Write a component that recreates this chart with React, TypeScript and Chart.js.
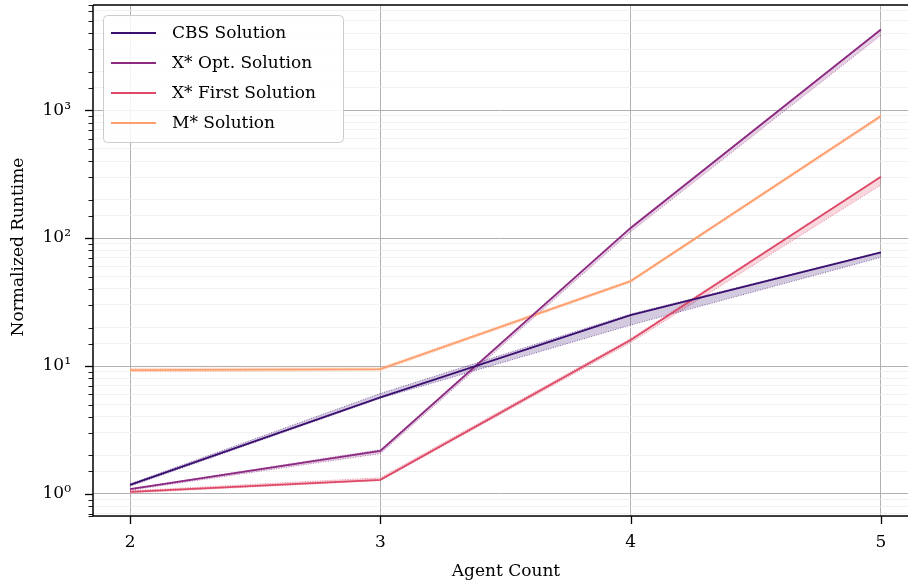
import { useEffect, useRef } from 'react';
import { Chart, registerables } from 'chart.js';
Chart.register(...registerables);

const FONT = "'DejaVu Serif', 'Liberation Serif', serif";

const agentCounts = [2, 3, 4, 5];
const xTicks = [2, 3, 4, 5];
const yTickLabels = ['10⁰', '10¹', '10²', '10³'];

const seriesNames = ['CBS Solution', 'X* Opt. Solution', 'X* First Solution', 'M* Solution'];
const seriesColors = ['#3b0f70', '#8c2981', '#de4968', '#fe9f6d'];

const cbsMean = [1.18, 5.69, 25.0, 77.3];
const cbsLow = [1.15, 5.6, 20.9, 70.7];
const cbsHigh = [1.2, 6.1, 25.5, 78.0];

const optMean = [1.09, 2.17, 120, 4270];
const optLow = [1.07, 2.07, 112, 3850];
const optHigh = [1.1, 2.22, 122, 4300];

const firstMean = [1.04, 1.29, 16.0, 301];
const firstLow = [1.02, 1.27, 15.3, 260];
const firstHigh = [1.06, 1.34, 16.4, 305];

const mMean = [9.3, 9.47, 46.1, 898];
const mLow = [9.0, 9.2, 45.0, 870];
const mHigh = [9.6, 9.7, 47.0, 920];

const means = [cbsMean, optMean, firstMean, mMean];
const lows = [cbsLow, optLow, firstLow, mLow];
const highs = [cbsHigh, optHigh, firstHigh, mHigh];

function hexA(hex: string, a: number) {
  const n = parseInt(hex.slice(1), 16);
  return `rgba(${(n >> 16) & 255},${(n >> 8) & 255},${n & 255},${a})`;
}
const pts = (arr: number[]) => arr.map((y, i) => ({ x: agentCounts[i], y }));
const isPow10 = (v: number) => Math.abs(Math.log10(v) - Math.round(Math.log10(v))) < 1e-6;

export default function App() {
  const ref = useRef<HTMLCanvasElement>(null);
  useEffect(() => {
    document.body.style.margin = '0';
    const datasets: any[] = [];
    seriesNames.forEach((name, s) => {
      const c = seriesColors[s];
      const lowIdx = datasets.length;
      datasets.push({
        label: name + ' low',
        data: pts(lows[s]),
        borderColor: hexA(c, 0.6),
        borderWidth: 1,
        borderDash: [1, 1.5],
        pointRadius: 0,
        fill: false,
        order: 2,
      });
      datasets.push({
        label: name + ' high',
        data: pts(highs[s]),
        borderColor: hexA(c, 0.6),
        borderWidth: 1,
        borderDash: [1, 1.5],
        pointRadius: 0,
        backgroundColor: hexA(c, 0.22),
        fill: lowIdx,
        order: 2,
      });
    });
    seriesNames.forEach((name, s) => {
      datasets.push({
        label: name,
        data: pts(means[s]),
        borderColor: seriesColors[s],
        borderWidth: 1.8,
        pointRadius: 0,
        fill: false,
        order: 0,
      });
    });

    const decor = {
      id: 'decor',
      afterDraw(chart: any) {
        const ctx = chart.ctx;
        const { left, right, top, bottom } = chart.chartArea;
        const ys = chart.scales.y;
        const xs = chart.scales.x;
        ctx.save();
        ctx.strokeStyle = '#000';
        ys.ticks.forEach((t: any) => {
          const p = Math.round(ys.getPixelForValue(t.value)) + 0.5;
          if (p < top - 1 || p > bottom + 1) return;
          const major = isPow10(t.value);
          ctx.lineWidth = major ? 1.3 : 0.9;
          ctx.beginPath();
          ctx.moveTo(left, p);
          ctx.lineTo(left - (major ? 8 : 4.5), p);
          ctx.stroke();
        });
        xs.ticks.forEach((t: any) => {
          const p = Math.round(xs.getPixelForValue(t.value)) + 0.5;
          ctx.lineWidth = 1.3;
          ctx.beginPath();
          ctx.moveTo(p, bottom);
          ctx.lineTo(p, bottom + 8);
          ctx.stroke();
        });
        ctx.lineWidth = 1.5;
        ctx.beginPath();
        ctx.moveTo(left, top);
        ctx.lineTo(left, bottom);
        ctx.lineTo(right, bottom);
        ctx.moveTo(left, top);
        ctx.lineTo(right, top);
        ctx.stroke();
        ctx.fillStyle = '#000';
        ctx.font = `17px ${FONT}`;
        ctx.textAlign = 'center';
        ctx.textBaseline = 'middle';
        ctx.fillText('Agent Count', 506, 572);
        ctx.save();
        ctx.translate(19, 247);
        ctx.rotate(-Math.PI / 2);
        ctx.fillText('Normalized Runtime', 0, 0);
        ctx.restore();
        ctx.beginPath();
        ctx.roundRect(103.5, 15.5, 240, 127, 4);
        ctx.fillStyle = 'rgba(255,255,255,0.85)';
        ctx.fill();
        ctx.strokeStyle = '#cccccc';
        ctx.lineWidth = 1;
        ctx.stroke();
        ctx.textAlign = 'left';
        seriesNames.forEach((name, i) => {
          const y = 33 + 30 * i;
          ctx.strokeStyle = seriesColors[i];
          ctx.lineWidth = 2;
          ctx.beginPath();
          ctx.moveTo(111, y);
          ctx.lineTo(156, y);
          ctx.stroke();
          ctx.fillStyle = '#000';
          ctx.fillText(name, 172, y + 1);
        });
        ctx.restore();
      },
    };

    const chart = new Chart(ref.current!, {
      type: 'line',
      data: { datasets },
      options: {
        responsive: false,
        animation: false,
        layout: { padding: { top: 5, right: 1, left: 0, bottom: 0 } },
        plugins: { legend: { display: false }, tooltip: { enabled: false } },
        scales: {
          x: {
            type: 'linear',
            min: 1.852,
            max: 5.108,
            afterBuildTicks: (s: any) => {
              s.ticks = xTicks.map((v) => ({ value: v }));
            },
            afterFit: (s: any) => {
              s.height = 69;
              s.paddingLeft = 0;
              s.paddingRight = 0;
            },
            grid: { color: '#b0b0b0', lineWidth: 1, drawTicks: false },
            border: { display: false },
            ticks: {
              color: '#000',
              padding: 16,
              font: { family: FONT, size: 17 },
              callback: (v: any) => String(v),
            },
          },
          y: {
            type: 'logarithmic',
            min: 0.673,
            max: 6630,
            afterFit: (s: any) => {
              s.width = 93;
              s.paddingTop = 0;
              s.paddingBottom = 0;
            },
            grid: {
              drawTicks: false,
              color: (c: any) => (c.tick && isPow10(c.tick.value) ? '#b0b0b0' : '#ededed'),
              lineWidth: (c: any) => (c.tick && isPow10(c.tick.value) ? 1 : 0.8),
            },
            border: { display: false },
            ticks: {
              autoSkip: false,
              color: '#000',
              padding: 22,
              font: { family: FONT, size: 17 },
              callback: (v: any) => {
                const n = Number(v);
                if (!isPow10(n)) return '';
                const e = Math.round(Math.log10(n));
                return yTickLabels[e] ?? '';
              },
            },
          },
        },
      },
      plugins: [decor],
    });
    return () => chart.destroy();
  }, []);
  return (
    <div style={{ width: 909, height: 585 }}>
      <canvas ref={ref} width={909} height={585} style={{ display: 'block' }} />
    </div>
  );
}
